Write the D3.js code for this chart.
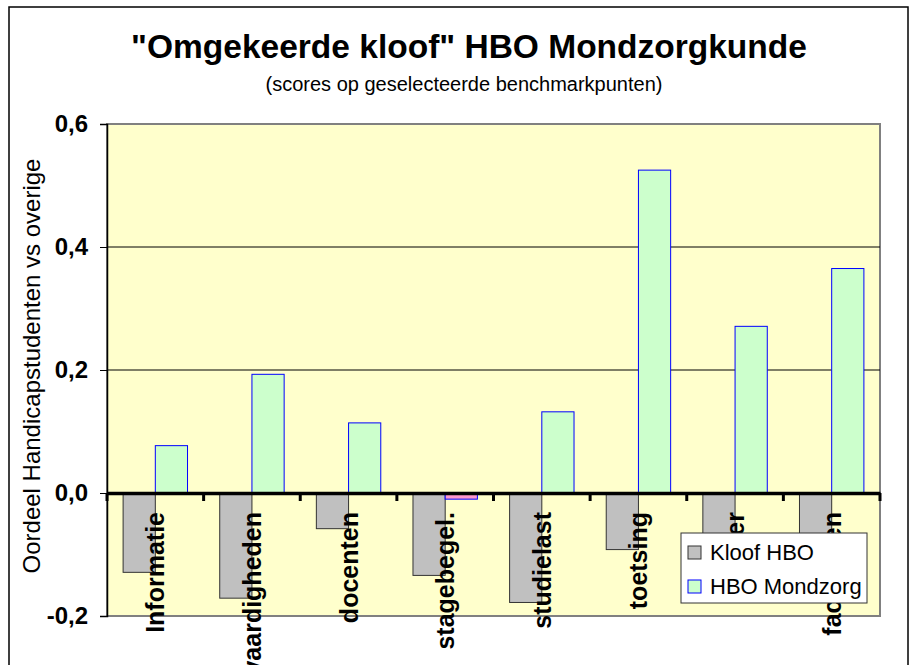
<html>
<head><meta charset="utf-8"></head>
<script src="https://cdn.jsdelivr.net/npm/d3@7"></script>
<style>
  body { margin: 0; background: #fff; }
  svg text { font-family: "Liberation Sans", Arial, sans-serif; }
</style>
<body>
<svg id="chart" width="918" height="665"></svg>
<script>
var categories = ["Informatie", "vaardigheden", "docenten", "stagebegel.", "studielast", "toetsing", "sfeer", "faciliteiten"];
var kloofHBO = [-0.129, -0.171, -0.058, -0.134, -0.178, -0.092, -0.12, -0.13];
var mondzorg = [0.077, 0.193, 0.114, -0.010, 0.132, 0.525, 0.271, 0.365];
var seriesNames = ["Kloof HBO", "HBO Mondzorg"];
var yTicks = [-0.2, 0, 0.2, 0.4, 0.6];

var plotLeft = 107, plotRight = 880, plotTop = 124, plotBottom = 616;
var svg = d3.select("#chart");

// outer frame
svg.append("rect")
  .attr("x", 9).attr("y", 7).attr("width", 899).attr("height", 700)
  .attr("fill", "none").attr("stroke", "#000").attr("stroke-width", 1.5);

var x = d3.scaleBand().domain(categories).range([plotLeft, plotRight]).padding(0);
var bw = x.bandwidth() / 3;
var y = d3.scaleLinear().domain([-0.2, 0.6]).range([plotBottom, plotTop]);

// plot area
svg.append("rect")
  .attr("x", plotLeft).attr("y", plotTop)
  .attr("width", plotRight - plotLeft).attr("height", plotBottom - plotTop)
  .attr("fill", "#FFFFCC").attr("stroke", "#808080").attr("stroke-width", 2);

// grid lines
svg.append("g").selectAll("line")
  .data(yTicks.filter(function(d) { return d > 0 && d < 0.6; }))
  .enter().append("line")
  .attr("x1", plotLeft).attr("x2", plotRight)
  .attr("y1", function(d) { return y(d); }).attr("y2", function(d) { return y(d); })
  .attr("stroke", "#000").attr("stroke-width", 1);

// bars
var bars = svg.append("g");
bars.selectAll(".kloof")
  .data(kloofHBO)
  .enter().append("rect")
  .attr("class", "kloof")
  .attr("x", function(d, i) { return x(categories[i]) + bw / 2; })
  .attr("width", bw)
  .attr("y", function(d) { return y(Math.max(0, d)); })
  .attr("height", function(d) { return Math.abs(y(d) - y(0)); })
  .attr("fill", "#C0C0C0").attr("stroke", "#333").attr("stroke-width", 1);

bars.selectAll(".mond")
  .data(mondzorg)
  .enter().append("rect")
  .attr("class", "mond")
  .attr("x", function(d, i) { return x(categories[i]) + bw * 1.5; })
  .attr("width", bw)
  .attr("y", function(d) { return y(Math.max(0, d)); })
  .attr("height", function(d) { return Math.abs(y(d) - y(0)); })
  .attr("fill", function(d) { return d < 0 ? "#FF99CC" : "#CCFFCC"; })
  .attr("stroke", "#0000FF").attr("stroke-width", 1);

// y axis
var yAxis = d3.axisLeft(y).tickValues(yTicks).tickSize(7).tickPadding(12)
  .tickFormat(function(d) { return d.toFixed(1).replace(".", ","); });
var ya = svg.append("g").attr("transform", "translate(" + plotLeft + ",0)").call(yAxis);
ya.select(".domain").attr("stroke", "#000").attr("stroke-width", 1.5);
ya.selectAll(".tick line").attr("stroke", "#000");
ya.selectAll(".tick text")
  .attr("fill", "#000").style("font-size", "24px").style("font-weight", "bold");

// zero axis with ticks at category boundaries
var xAxis = d3.axisBottom(x).tickSize(0).tickFormat("");
var xa = svg.append("g").attr("transform", "translate(0," + y(0) + ")").call(xAxis);
xa.select(".domain").attr("stroke", "#000").attr("stroke-width", 3.5);
xa.selectAll(".tick").remove();
var bounds = categories.map(function(c) { return x(c); }).concat([plotRight]);
xa.selectAll(".bt")
  .data(bounds)
  .enter().append("line")
  .attr("x1", function(d) { return d; }).attr("x2", function(d) { return d; })
  .attr("y1", 0).attr("y2", 8)
  .attr("stroke", "#000").attr("stroke-width", 3);

// category labels (rotated)
svg.append("g").selectAll("text")
  .data(categories)
  .enter().append("text")
  .attr("transform", function(d) {
    return "translate(" + (x(d) + x.bandwidth() / 2 + 9) + ",512) rotate(-90)";
  })
  .attr("text-anchor", "end")
  .style("font-size", "25px").style("font-weight", "bold")
  .attr("fill", "#000")
  .text(function(d) { return d; });

// legend
var lg = svg.append("g").attr("transform", "translate(681,533)");
lg.append("rect").attr("width", 186).attr("height", 70)
  .attr("fill", "#fff").attr("stroke", "#333").attr("stroke-width", 1);
var swFill = ["#C0C0C0", "#CCFFCC"], swStroke = ["#333", "#0000FF"];
seriesNames.forEach(function(n, i) {
  lg.append("rect")
    .attr("x", 7).attr("y", 13 + i * 34).attr("width", 13).attr("height", 13)
    .attr("fill", swFill[i]).attr("stroke", swStroke[i]);
  lg.append("text")
    .attr("x", 29).attr("y", 27 + i * 34)
    .style("font-size", "22px").attr("fill", "#000")
    .text(n);
});

// titles
svg.append("text")
  .attr("x", 469).attr("y", 58).attr("text-anchor", "middle")
  .style("font-size", "33.5px").style("font-weight", "bold")
  .text("\"Omgekeerde kloof\" HBO Mondzorgkunde");
svg.append("text")
  .attr("x", 464).attr("y", 91).attr("text-anchor", "middle")
  .style("font-size", "20px")
  .text("(scores op geselecteerde benchmarkpunten)");
svg.append("text")
  .attr("transform", "translate(40,366) rotate(-90)")
  .attr("text-anchor", "middle")
  .style("font-size", "24px")
  .text("Oordeel Handicapstudenten vs overige");
</script>
</body>
</html>
